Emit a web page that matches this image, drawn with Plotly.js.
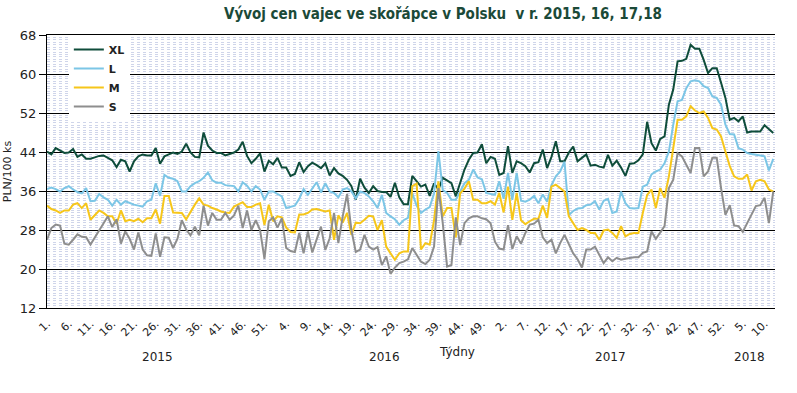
<!DOCTYPE html>
<html>
<head>
<meta charset="utf-8">
<script src="https://cdn.plot.ly/plotly-3.0.1.min.js"></script>
<style>html,body{margin:0;padding:0;background:#fff;}#chart{width:797px;height:393px;}</style>
</head>
<body>
<div id="chart"></div>
<script>
// Weekly egg prices in Poland (PLN/100 ks), 2015 week 1 .. 2018 week 12
const seriesNames = ["XL", "L", "M", "S"];

const xlValues = [44.1,43.5,44.8,44.3,43.8,43.9,44.6,43.0,43.5,42.6,
 42.6,42.9,43.2,43.3,42.8,42.3,40.9,42.4,42.1,40.0,
 42.1,43.1,43.5,43.3,43.3,44.8,41.6,43.1,43.5,43.9,
 43.6,44.1,45.7,43.9,43.0,42.9,48.0,45.3,44.3,43.8,
 43.8,43.3,43.6,43.9,44.5,46.1,43.2,41.7,42.6,43.7,
 40.0,42.2,41.5,42.8,40.8,40.8,39.1,39.5,41.9,39.9,
 41.1,41.8,41.3,40.7,41.7,39.2,40.7,39.6,39.1,38.3,
 37.0,34.2,38.5,36.7,35.6,37.0,36.0,35.8,35.8,34.8,
 37.7,34.7,33.3,33.3,39.1,37.9,36.9,37.3,35.0,37.6,
 36.3,38.7,38.2,37.6,34.9,37.6,40.4,42.4,43.8,43.9,
 45.6,41.7,43.0,42.6,39.3,39.7,45.2,39.7,42.1,41.7,
 41.1,39.8,41.7,41.9,44.5,40.7,43.0,46.2,42.1,42.1,
 43.9,45.1,42.1,42.8,43.5,41.2,41.4,41.0,40.8,43.4,
 41.2,42.2,40.8,39.1,41.6,41.7,42.3,43.5,50.2,45.8,
 44.3,46.7,47.2,53.7,56.8,62.6,62.7,63.1,66.0,65.2,
 65.2,62.9,60.2,61.2,61.2,58.2,55.1,50.6,51.0,50.3,
 51.3,48.0,48.2,48.2,48.2,49.5,48.6,47.9];

const lValues = [36.4,36.7,36.4,35.9,36.6,37.0,36.3,35.8,35.5,36.6,
 33.9,34.0,35.4,34.7,34.2,33.0,34.2,33.2,33.9,33.5,
 33.2,33.0,32.8,33.9,34.2,37.6,35.0,39.3,38.7,38.5,
 38.0,35.9,35.9,37.0,37.6,38.0,38.7,39.8,38.2,37.7,
 37.7,37.2,37.1,37.0,35.9,37.8,37.1,35.9,37.0,36.3,
 34.2,35.9,35.9,35.4,34.9,32.5,32.8,33.0,34.4,36.4,
 35.2,36.4,37.8,35.7,37.6,35.9,35.6,34.7,36.3,36.6,
 35.9,34.5,35.9,35.6,34.9,33.9,32.5,35.2,31.5,30.8,
 30.2,29.1,30.0,30.5,35.5,33.0,31.5,32.2,32.7,35.5,
 44.2,36.2,35.6,34.2,34.2,35.9,37.6,38.3,40.4,38.8,
 38.4,35.6,35.4,35.2,38.0,34.4,39.7,34.2,39.7,34.0,
 33.8,34.2,35.0,33.5,35.3,33.8,37.2,39.0,40.0,42.0,
 31.1,31.9,32.4,32.5,33.1,33.2,33.9,32.2,34.0,34.4,
 31.5,31.8,35.9,33.5,32.5,32.4,32.5,36.9,37.3,39.4,
 40.0,40.4,41.7,44.1,49.6,54.4,54.7,57.1,58.5,58.7,
 58.5,57.5,57.1,55.4,55.1,53.7,49.6,47.7,47.6,44.8,
 44.5,43.8,43.6,43.5,43.3,43.1,40.2,42.6];

const mValues = [33.0,32.3,32.0,31.5,32.0,32.0,33.2,33.5,32.5,33.5,
 30.1,31.1,32.0,31.5,30.8,30.8,29.3,32.0,29.8,30.1,
 29.8,30.3,29.6,30.4,30.4,32.2,29.3,35.0,35.0,31.6,
 31.6,31.5,30.2,31.8,33.2,34.5,33.2,33.0,32.5,32.2,
 31.8,31.6,31.5,32.8,33.2,33.7,32.7,32.7,33.2,33.5,
 29.0,33.2,29.8,30.8,30.6,28.5,27.6,27.5,31.2,31.2,
 31.5,32.2,32.3,32.1,31.8,32.0,26.0,31.0,29.5,31.5,
 27.0,29.5,29.4,30.1,30.9,30.8,28.0,30.0,24.6,23.2,
 21.9,23.2,23.6,23.6,37.0,37.5,24.0,25.3,25.0,30.0,
 38.0,30.8,32.5,32.5,26.5,35.5,36.5,38.0,34.2,34.2,
 33.5,33.5,33.9,33.2,35.6,31.6,36.9,30.1,35.6,30.0,
 29.2,29.8,30.3,30.3,33.0,30.5,36.9,37.3,36.6,35.9,
 30.8,29.4,28.0,28.4,28.0,27.4,27.4,26.0,27.9,28.1,
 27.4,26.4,28.8,26.7,27.2,27.4,27.4,31.5,35.2,36.3,
 32.5,36.6,34.6,39.0,44.5,50.6,50.6,51.3,53.4,52.5,
 52.0,52.3,51.0,48.9,48.6,47.2,44.1,41.1,39.0,38.5,
 38.5,39.4,36.1,38.0,38.3,38.0,36.3,35.9];

const sValues = [26.0,28.4,29.1,28.9,25.2,25.0,26.0,27.1,26.6,26.5,
 25.0,26.5,28.0,29.6,30.8,28.6,30.2,25.2,27.7,26.2,
 24.0,27.5,24.0,22.8,22.7,27.3,22.5,26.5,26.4,24.3,
 26.2,30.0,28.1,26.9,28.7,26.9,33.0,28.9,31.5,30.1,
 30.1,31.5,30.1,31.0,33.0,28.4,32.0,28.0,30.0,28.0,
 22.1,29.8,30.6,28.5,30.4,24.3,23.7,23.5,27.4,23.2,
 27.7,23.4,26.1,28.7,23.9,26.3,31.5,25.3,30.8,35.4,
 28.0,23.5,24.0,27.0,24.6,24.0,24.5,20.8,22.6,19.0,
 20.3,21.2,21.5,22.0,24.3,22.8,21.5,21.0,21.9,24.6,
 36.6,29.4,20.5,20.8,30.6,24.9,29.4,30.4,30.8,30.8,
 30.4,30.2,29.4,25.6,24.2,24.0,29.0,24.1,26.7,25.2,
 27.4,29.1,29.3,30.1,26.5,25.3,26.0,23.2,25.3,27.0,
 25.0,23.2,22.0,20.3,24.0,24.0,24.6,22.9,21.2,22.4,
 21.6,22.3,21.9,22.1,22.3,22.4,22.4,23.3,23.6,27.7,
 26.2,27.4,28.8,36.6,38.3,43.8,43.1,41.4,39.7,44.8,
 44.8,39.0,40.0,42.8,42.8,36.6,31.1,33.1,28.9,28.8,
 27.6,29.4,31.1,32.9,33.1,34.6,29.4,35.9];

// Week tick labels shown every 5th week
const weekTickLabels = ["1.","6.","11.","16.","21.","26.","31.","36.","41.","46.","51.",
 "4.","9.","14.","19.","24.","29.","34.","39.","44.","49.",
 "2.","7.","12.","17.","22.","27.","32.","37.","42.","47.","52.",
 "5.","10."];
const years = ["2015", "2016", "2017", "2018"];
const weeksPerYear = [52, 52, 52, 12];
const yTicks = [12, 20, 28, 36, 44, 52, 60, 68];

const colors = ["#0f4d3b", "#7cc6e6", "#f6c61a", "#8e8e8e"];
const allValues = [xlValues, lValues, mValues, sValues];
const xIdx = xlValues.map((_, i) => i);

const traces = allValues.map((vals, k) => ({
  type: "scatter",
  mode: "lines",
  name: seriesNames[k],
  x: xIdx,
  y: vals,
  line: {color: colors[k], width: 2},
  hoverinfo: "skip"
}));

const tickvals = weekTickLabels.map((_, i) => i * 5);

const annotations = [];
let start = 0;
years.forEach((yr, k) => {
  annotations.push({
    text: yr, x: start + (weeksPerYear[k] - 1) / 2, xref: "x",
    y: -0.178, yref: "paper", showarrow: false,
    xanchor: "center", yanchor: "middle",
    font: {family: "DejaVu Sans", size: 12, color: "#222"}
  });
  start += weeksPerYear[k];
});
annotations.push({
  text: "Týdny", x: 0.563, xref: "paper", y: -0.16, yref: "paper",
  showarrow: false, xanchor: "center", yanchor: "middle",
  font: {family: "DejaVu Sans", size: 12, color: "#222"}
});

const layout = {
  width: 797, height: 393,
  margin: {l: 47, r: 22, t: 35, b: 85},
  paper_bgcolor: "#fff", plot_bgcolor: "#fff",
  showlegend: true,
  title: {
    text: "Vývoj cen vajec ve skořápce v Polsku\u00a0 v r. 2015, 16, 17,18",
    x: 443 / 797, xref: "container", xanchor: "center",
    y: 1 - 14 / 393, yref: "container", yanchor: "middle",
    font: {family: "DejaVu Sans Condensed", size: 15, weight: "bold", color: "#1b4a38"}
  },
  xaxis: {
    range: [0, 167.4], tickmode: "array", tickvals: tickvals, ticktext: weekTickLabels,
    tickangle: -45, ticks: "", ticklabelstandoff: 4,
    tickfont: {family: "DejaVu Sans", size: 11, color: "#222"},
    showgrid: false, zeroline: false, showline: true, linecolor: "#000", linewidth: 1,
    mirror: true, fixedrange: true
  },
  yaxis: {
    range: [12, 68], tickmode: "array", tickvals: yTicks,
    ticks: "outside", ticklen: 7, tickcolor: "#000", tickwidth: 1,
    tickfont: {family: "DejaVu Sans", size: 13, color: "#222"},
    showgrid: true, gridcolor: "#000", gridwidth: 1,
    minor: {dtick: 0.5, showgrid: true, gridcolor: "#cfd5ea", griddash: "dot", gridwidth: 1, ticks: ""},
    zeroline: false, showline: true, linecolor: "#000", linewidth: 1,
    title: {text: "PLN/100 ks", standoff: 6, font: {family: "DejaVu Sans", size: 11, color: "#222"}},
    fixedrange: true
  },
  legend: {
    x: 0.03, xanchor: "left", y: 1, yanchor: "top",
    bgcolor: "#fff", borderwidth: 0, itemwidth: 30,
    font: {family: "DejaVu Sans", size: 11, weight: "bold", color: "#222"},
    tracegroupgap: 0
  },
  annotations: annotations
};

Plotly.newPlot("chart", traces, layout, {staticPlot: true, displayModeBar: false});
</script>
</body>
</html>
